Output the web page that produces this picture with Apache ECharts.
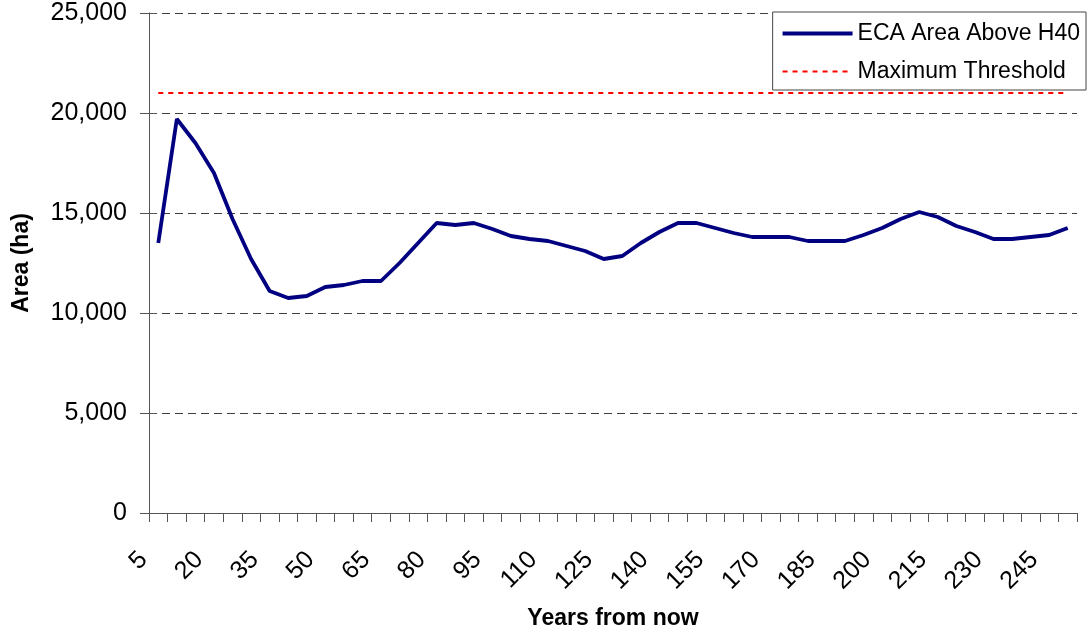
<!DOCTYPE html>
<html>
<head>
<meta charset="utf-8">
<script src="https://cdn.jsdelivr.net/npm/echarts@6/dist/echarts.min.js"></script>
<style>
html,body{margin:0;padding:0;background:#fff;}
#chart{width:1089px;height:632px;}
</style>
</head>
<body>
<div id="chart"></div>
<script>
const years = [5,10,15,20,25,30,35,40,45,50,55,60,65,70,75,80,85,90,95,100,105,110,115,120,125,130,135,140,145,150,155,160,165,170,175,180,185,190,195,200,205,210,215,220,225,230,235,240,245,250];
const ecaArea = [13500,19700,18500,17000,14700,12700,11100,10750,10850,11300,11400,11600,11600,12500,13500,14500,14400,14500,14200,13850,13700,13600,13350,13100,12700,12850,13500,14050,14500,14500,14250,14000,13800,13800,13800,13600,13600,13600,13900,14250,14700,15050,14800,14350,14050,13700,13700,13800,13900,14250];
const maxThreshold = [21000,21000,21000,21000,21000,21000,21000,21000,21000,21000,21000,21000,21000,21000,21000,21000,21000,21000,21000,21000,21000,21000,21000,21000,21000,21000,21000,21000,21000,21000,21000,21000,21000,21000,21000,21000,21000,21000,21000,21000,21000,21000,21000,21000,21000,21000,21000,21000,21000,21000];
const seriesNames = ['ECA Area Above H40', 'Maximum Threshold'];
const xAxisTitle = 'Years from now';
const yAxisTitle = 'Area (ha)';

const FONT = "'Liberation Sans', Arial, sans-serif";
const chart = echarts.init(document.getElementById('chart'), null, {renderer: 'canvas'});
chart.setOption({
  animation: false,
  backgroundColor: '#ffffff',
  textStyle: {fontFamily: FONT, color: '#000'},
  grid: {left: 149, right: 12, top: 13, bottom: 119, containLabel: false, outerBoundsMode: 'none'},
  legend: {
    orient: 'vertical',
    right: 3, top: 12,
    padding: [10, 6, 7, 8],
    itemGap: 15,
    itemWidth: 70, itemHeight: 22,
    borderColor: '#444', borderWidth: 1,
    backgroundColor: '#fff',
    itemStyle: {opacity: 0},
    lineStyle: {width: 'inherit', type: 'inherit'},
    textStyle: {fontFamily: FONT, fontSize: 23, color: '#000'},
    data: seriesNames
  },
  xAxis: {
    type: 'category',
    data: years,
    boundaryGap: true,
    name: xAxisTitle,
    nameLocation: 'middle',
    nameGap: 94,
    nameTextStyle: {fontFamily: FONT, fontSize: 23, fontWeight: 'bold', color: '#000'},
    axisLine: {lineStyle: {color: '#555', width: 1}},
    axisTick: {show: true, interval: 0, length: 9, lineStyle: {color: '#555'}},
    axisLabel: {interval: 2, rotate: 45, margin: 28, fontSize: 25, color: '#000', fontFamily: FONT, padding: [0, 21, 0, 0]},
    splitLine: {show: false}
  },
  yAxis: [{
    type: 'value',
    min: 0, max: 25000, interval: 5000,
    name: yAxisTitle,
    nameLocation: 'middle',
    nameGap: 116,
    nameTextStyle: {fontFamily: FONT, fontSize: 23, fontWeight: 'bold', color: '#000'},
    axisLine: {show: true, lineStyle: {color: '#555', width: 1}},
    axisTick: {show: true, length: 9, lineStyle: {color: '#555'}},
    axisLabel: {margin: 22, fontSize: 25, color: '#000', fontFamily: FONT,
      formatter: v => v.toLocaleString('en-US')},
    splitLine: {show: true, lineStyle: {color: '#404040', type: [8, 5], width: 1}}
  }, {
    type: 'value',
    position: 'left',
    min: 0, max: 25000, interval: 5000,
    axisLine: {show: false},
    axisTick: {show: true, inside: true, length: 8, lineStyle: {color: '#555'}},
    axisLabel: {show: false},
    splitLine: {show: false}
  }],
  series: [{
    name: seriesNames[0],
    type: 'line',
    data: ecaArea,
    symbol: 'none',
    lineStyle: {color: '#000080', width: 3.8},
    itemStyle: {color: '#000080'},
    z: 3
  }, {
    name: seriesNames[1],
    type: 'line',
    data: maxThreshold,
    symbol: 'none',
    lineStyle: {color: '#ff0000', width: 2, type: [5, 5]},
    itemStyle: {color: '#ff0000'},
    z: 2
  }]
});
</script>
</body>
</html>
